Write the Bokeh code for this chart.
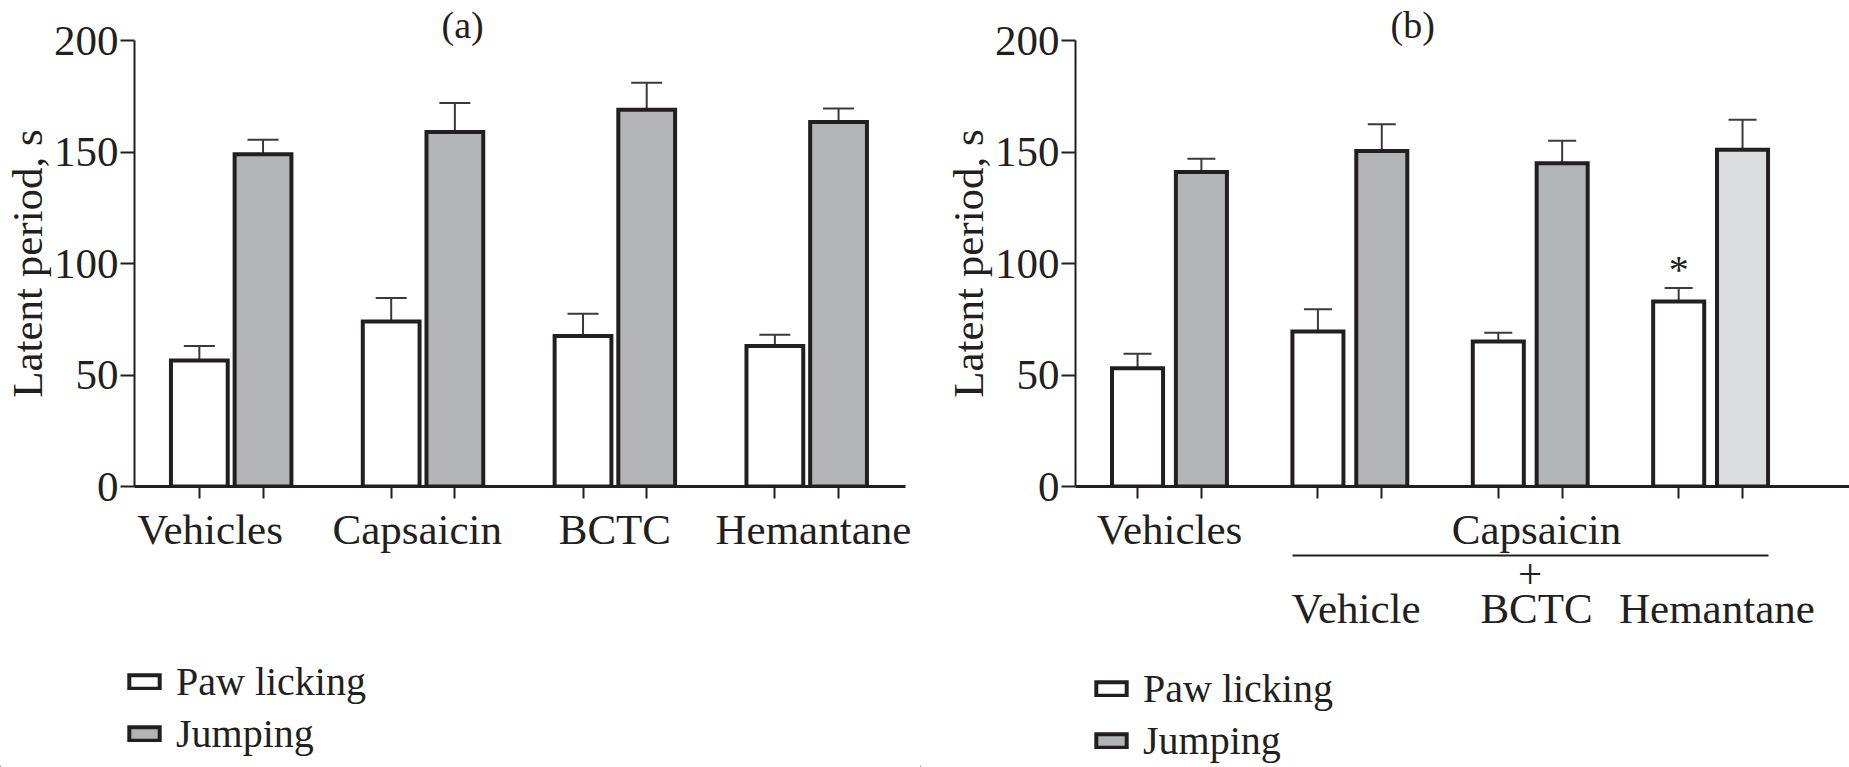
import numpy as np
from bokeh.plotting import figure
from bokeh.models import (ColumnDataSource, Range1d, LinearAxis, FixedTicker, Whisker,
                          TeeHead, Legend, LegendItem, CustomJSTickFormatter)
from bokeh.layouts import row, column
from bokeh.embed import file_html
from bokeh.resources import INLINE
from bokeh.core.properties import value

# ---------------- data ----------------
# Panel (a)
groups_a = ["Vehicles", "Capsaicin", "BCTC", "Hemantane"]
paw_a = [56.5, 74.0, 67.5, 63.0]
paw_a_err = [6.5, 10.5, 10.0, 5.0]
jump_a = [149.0, 159.0, 169.0, 163.5]
jump_a_err = [6.5, 13.0, 12.0, 6.0]

# Panel (b)
groups_b = ["Vehicles", "Vehicle", "BCTC", "Hemantane"]
capsaicin_idx_b = [1, 2, 3]          # groups under "Capsaicin +"
capsaicin_label = "Capsaicin"
plus_label = "+"
paw_b = [53.0, 69.5, 65.0, 83.0]
paw_b_err = [6.5, 10.0, 4.0, 6.0]
jump_b = [141.0, 150.5, 145.0, 151.0]
jump_b_err = [6.0, 12.0, 10.0, 13.5]
paw_b_signif = [False, False, False, True]

y_ticks = [0, 50, 100, 150, 200]
series = ["Paw licking", "Jumping"]
y_label = "Latent period, s"
titles = ["(a)", "(b)"]

# ---------------- style ----------------
FONT = "Liberation Serif"
FS = "43px"
FS_TITLE = "38px"
FS_LEG = "40px"
INK = "#231f20"
GRAY = "#b3b4b6"
LIGHT = "#dcdddf"
ERR = "#3a3a3a"
H_TOP = 650
H_LEG = 767 - H_TOP
TOP = 40
FRAME_BOTTOM = 486


def empty_fmt():
    return CustomJSTickFormatter(code="return ''")


def base_fig(width, left, right, xr, title, title_offset):
    p = figure(width=width, height=H_TOP, x_range=Range1d(*xr), y_range=Range1d(0, 200),
               x_axis_type=None, output_backend="svg", toolbar_location=None,
               min_border_left=left, min_border_right=right,
               min_border_top=TOP, min_border_bottom=H_TOP - FRAME_BOTTOM)
    p.title.text = title
    p.title.text_font = FONT
    p.title.text_font_size = FS_TITLE
    p.title.text_font_style = "normal"
    p.title.text_color = INK
    p.title.align = "left"
    p.title.offset = title_offset
    p.title.standoff = -10
    p.ygrid.visible = False
    p.outline_line_color = None
    p.background_fill_color = "white"
    p.border_fill_color = "white"
    ya = p.yaxis[0]
    ya.ticker = FixedTicker(ticks=y_ticks)
    ya.bounds = (0, 200)
    ya.major_tick_out = 14
    ya.major_tick_in = 0
    ya.minor_tick_out = 0
    ya.minor_tick_in = 0
    ya.axis_line_width = 2
    ya.axis_line_color = INK
    ya.major_tick_line_width = 2
    ya.major_tick_line_color = INK
    ya.major_label_text_font = FONT
    ya.major_label_text_font_size = FS
    ya.major_label_text_color = INK
    ya.major_label_standoff = 2
    ya.axis_label = y_label
    ya.axis_label_text_font = FONT
    ya.axis_label_text_font_size = FS
    ya.axis_label_text_font_style = "normal"
    ya.axis_label_text_color = INK
    ya.axis_label_standoff = 0
    return p


def tick_axis(p, ticks):
    ax = LinearAxis(ticker=FixedTicker(ticks=list(ticks)), formatter=empty_fmt(),
                    major_tick_out=12, major_tick_in=0, minor_tick_out=0, minor_tick_in=0,
                    axis_line_width=3, axis_line_color=INK,
                    major_tick_line_width=2, major_tick_line_color=INK,
                    major_label_text_font_size="1px", major_label_standoff=0)
    p.add_layout(ax, "below")
    return ax


def label_axis(p, ticks, labels, standoff, line=False, bounds=None):
    ax = LinearAxis(ticker=FixedTicker(ticks=list(ticks)),
                    major_label_overrides={t: l for t, l in zip(ticks, labels)},
                    major_tick_out=0, major_tick_in=0, minor_tick_out=0, minor_tick_in=0,
                    major_tick_line_color=None, minor_tick_line_color=None,
                    axis_line_color=INK if line else None, axis_line_width=2,
                    major_label_text_font=FONT, major_label_text_font_size=FS,
                    major_label_text_color=INK, major_label_standoff=standoff)
    if bounds is not None:
        ax.bounds = bounds
    p.add_layout(ax, "below")
    return ax


def spacer_axis(p, standoff):
    ax = LinearAxis(ticker=FixedTicker(ticks=[]), formatter=empty_fmt(),
                    axis_line_color=None, major_tick_line_color=None,
                    minor_tick_line_color=None, major_tick_out=0, minor_tick_out=0,
                    major_label_text_font_size="1px", major_label_standoff=standoff)
    p.add_layout(ax, "below")
    return ax


def draw_bars(p, paw, paw_err, jump, jump_err, jump_colors, offset, bw, cap):
    n = len(paw)
    idx = np.arange(n, dtype=float)
    src_p = ColumnDataSource(dict(x=idx - offset, top=paw,
                                  upper=np.array(paw) + np.array(paw_err)))
    src_j = ColumnDataSource(dict(x=idx + offset, top=jump,
                                  upper=np.array(jump) + np.array(jump_err),
                                  color=jump_colors))
    for s in (src_p, src_j):
        p.add_layout(Whisker(source=s, base="x", lower="top", upper="upper",
                             line_color=ERR, line_width=2, lower_head=None,
                             upper_head=TeeHead(size=cap, line_color=ERR, line_width=2)))
    rp = p.vbar(x="x", top="top", width=bw, bottom=0, source=src_p,
                fill_color="white", line_color=INK, line_width=4, line_join="miter")
    rj = p.vbar(x="x", top="top", width=bw, bottom=0, source=src_j,
                fill_color="color", line_color=INK, line_width=4, line_join="miter")
    return rp, rj, src_p


def legend_fig(width, vx, vy, spacing):
    lf = figure(width=width, height=H_LEG, x_range=Range1d(0, width),
                y_range=Range1d(0, H_LEG), x_axis_type=None, y_axis_type=None,
                output_backend="svg", toolbar_location=None,
                min_border_left=0, min_border_right=0, min_border_top=0,
                min_border_bottom=0)
    lf.grid.visible = False
    lf.outline_line_color = None
    lf.background_fill_color = "white"
    lf.border_fill_color = "white"
    # off-screen proxies that only carry the legend swatch styles
    proxy = dict(x=[-1000.0], top=[0.0])
    r1 = lf.vbar(x="x", top="top", width=1, source=ColumnDataSource(dict(proxy)),
                 fill_color="white", line_color=INK, line_width=4, line_join="miter")
    r2 = lf.vbar(x="x", top="top", width=1, source=ColumnDataSource(dict(proxy)),
                 fill_color=GRAY, line_color=INK, line_width=4, line_join="miter")
    lg = Legend(items=[LegendItem(label=series[0], renderers=[r1]),
                       LegendItem(label=series[1], renderers=[r2])],
                location=(vx, vy), orientation="vertical",
                label_text_font=FONT, label_text_font_size=FS_LEG, label_text_color=INK,
                glyph_width=38, glyph_height=17, label_standoff=13, spacing=spacing,
                padding=0, margin=0, border_line_color=None,
                background_fill_color=None, background_fill_alpha=0)
    lf.add_layout(lg)
    return lf


# ---------------- panel (a) ----------------
off_a, bw_a = 0.166, 0.296
pa = base_fig(920, 132, 15, (-0.504, 3.515), titles[0], 307)
rpa, rja, _ = draw_bars(pa, paw_a, paw_a_err, jump_a, jump_a_err,
                        [GRAY] * len(jump_a), off_a, bw_a, 31)
ia = np.arange(len(groups_a), dtype=float)
tick_axis(pa, np.concatenate([ia - off_a, ia + off_a]))
label_pos_a = [-0.11, 0.97, 2.0, 3.035]
label_axis(pa, label_pos_a, groups_a, 7)

# ---------------- panel (b) ----------------
off_b, bw_b = 0.177, 0.283
pb = base_fig(929, 155, 0, (-0.521, 3.77), titles[1], 315)
jump_colors_b = [GRAY, GRAY, GRAY, LIGHT]
rpb, rjb, srcpb = draw_bars(pb, paw_b, paw_b_err, jump_b, jump_b_err,
                            jump_colors_b, off_b, bw_b, 28)
ib = np.arange(len(groups_b), dtype=float)
tick_axis(pb, np.concatenate([ib - off_b, ib + off_b]))
caps_center = float(np.mean(capsaicin_idx_b))
shift_b = 0.035
label_axis(pb, [0, caps_center + shift_b], [groups_b[0], capsaicin_label], 7)
spacer_axis(pb, 11)
lo = min(capsaicin_idx_b) - off_b - bw_b / 2
hi = max(capsaicin_idx_b) + off_b + bw_b / 2
label_axis(pb, [caps_center], [plus_label], 4, line=True, bounds=(lo, hi))
label_axis(pb, [i + shift_b for i in capsaicin_idx_b],
           [groups_b[i] for i in capsaicin_idx_b], -6)
# significance star
sx = [x for x, s in zip(srcpb.data["x"], paw_b_signif) if s]
sy = [u + 8.5 for u, s in zip(srcpb.data["upper"], paw_b_signif) if s]
pb.text(x=sx, y=sy, text=["*"] * len(sx), text_font=value(FONT), text_font_size="40px",
        text_color=INK, text_align="center", text_baseline="alphabetic")

# ---------------- legends ----------------
la = legend_fig(920, 125, 10, 5)
lb = legend_fig(929, 172, 3, 5)

layout = column(row(pa, pb), row(la, lb))
open("out.html", "w").write(file_html(layout, INLINE))
